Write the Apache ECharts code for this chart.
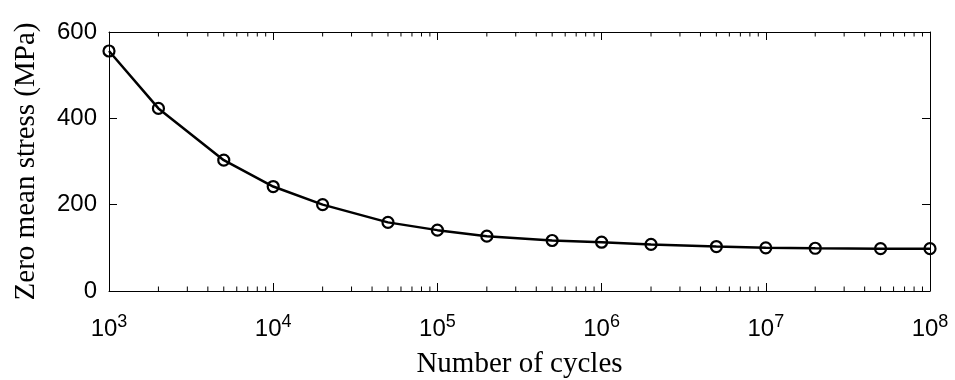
<!DOCTYPE html>
<html>
<head>
<meta charset="utf-8">
<script src="https://cdn.jsdelivr.net/npm/echarts@6/dist/echarts.min.js"></script>
<style>html,body{margin:0;padding:0;background:#fff}#c{width:955px;height:380px}</style>
</head>
<body>
<div id="c"></div>
<script>
const cycles = [1e3, 2e3, 5e3, 1e4, 2e4, 5e4, 1e5, 2e5, 5e5, 1e6, 2e6, 5e6, 1e7, 2e7, 5e7, 1e8];
const stress = [556, 423, 303, 242, 200, 159, 141, 127, 117, 113, 108, 103, 100, 99, 98, 98];
const xTickExponents = [3, 4, 5, 6, 7, 8];
const yTicks = [0, 200, 400, 600];
const minorMultipliers = [2, 3, 4, 5, 6, 7, 8, 9];
const xTitle = 'Number of cycles';
const yTitle = 'Zero mean stress (MPa)';

const minorTicks = [];
for (let i = 0; i < xTickExponents.length - 1; i++) {
  for (const m of minorMultipliers) minorTicks.push([m * Math.pow(10, xTickExponents[i]), 0]);
}

const tickFont = 'Liberation Sans';
const titleFont = 'Liberation Serif';

const chart = echarts.init(document.getElementById('c'), null, {renderer: 'canvas'});
chart.setOption({
  animation: false,
  backgroundColor: '#fff',
  grid: {left: 109, right: 25, top: 32, bottom: 89, containLabel: false, outerBoundsMode: 'none'},
  xAxis: [{
    type: 'log', logBase: 10,
    min: Math.pow(10, xTickExponents[0]), max: Math.pow(10, xTickExponents[xTickExponents.length - 1]),
    position: 'bottom',
    name: xTitle, nameLocation: 'middle', nameGap: 59,
    nameTextStyle: {fontFamily: titleFont, fontSize: 29, color: '#000'},
    axisLine: {show: true, onZero: false, lineStyle: {color: '#000', width: 1}},
    axisTick: {show: true, inside: true, length: 8, lineStyle: {color: '#000', width: 1}},
    splitLine: {show: false},
    axisLabel: {
      margin: 22, color: '#000',
      formatter: function (v) { return '{b|10}{s|' + Math.round(Math.log10(v)) + '}'; },
      rich: {
        b: {fontFamily: tickFont, fontSize: 24, color: '#000'},
        s: {fontFamily: tickFont, fontSize: 18, color: '#000', padding: [0, 0, 14, 0]}
      }
    }
  }, {
    type: 'log', logBase: 10,
    min: Math.pow(10, xTickExponents[0]), max: Math.pow(10, xTickExponents[xTickExponents.length - 1]),
    position: 'top',
    axisLine: {show: true, onZero: false, lineStyle: {color: '#000', width: 1}},
    axisTick: {show: true, inside: true, length: 8, lineStyle: {color: '#000', width: 1}},
    axisLabel: {show: false}, splitLine: {show: false}
  }],
  yAxis: [{
    type: 'value', min: yTicks[0], max: yTicks[yTicks.length - 1], interval: 200,
    position: 'left',
    name: yTitle, nameLocation: 'middle', nameGap: 68,
    nameTextStyle: {fontFamily: titleFont, fontSize: 29, color: '#000'},
    axisLine: {show: true, onZero: false, lineStyle: {color: '#000', width: 1}},
    axisTick: {show: true, inside: true, length: 8, lineStyle: {color: '#000', width: 1}},
    splitLine: {show: false},
    axisLabel: {margin: 12, color: '#000', fontFamily: tickFont, fontSize: 24}
  }, {
    type: 'value', min: yTicks[0], max: yTicks[yTicks.length - 1], interval: 200,
    position: 'right',
    axisLine: {show: true, onZero: false, lineStyle: {color: '#000', width: 1}},
    axisTick: {show: true, inside: true, length: 8, lineStyle: {color: '#000', width: 1}},
    axisLabel: {show: false}, splitLine: {show: false}
  }],
  series: [{
    type: 'line',
    xAxisIndex: 0, yAxisIndex: 0,
    data: cycles.map((c, i) => [c, stress[i]]),
    symbol: 'circle', symbolSize: 11,
    lineStyle: {color: '#000', width: 2.5},
    itemStyle: {color: 'rgba(0,0,0,0)', borderColor: '#000', borderWidth: 2.2},
    clip: false, z: 5
  }, {
    type: 'custom',
    xAxisIndex: 0, yAxisIndex: 0,
    data: minorTicks,
    encode: {x: 0, y: 1},
    silent: true,
    renderItem: function (params, api) {
      const x = api.coord([api.value(0), 0])[0];
      const cs = params.coordSys;
      const yb = cs.y + cs.height, yt = cs.y;
      return {type: 'group', children: [
        {type: 'line', shape: {x1: x, y1: yb, x2: x, y2: yb - 4.5}, style: {stroke: '#000', lineWidth: 1}},
        {type: 'line', shape: {x1: x, y1: yt, x2: x, y2: yt + 4.5}, style: {stroke: '#000', lineWidth: 1}}
      ]};
    }
  }]
});
</script>
</body>
</html>
